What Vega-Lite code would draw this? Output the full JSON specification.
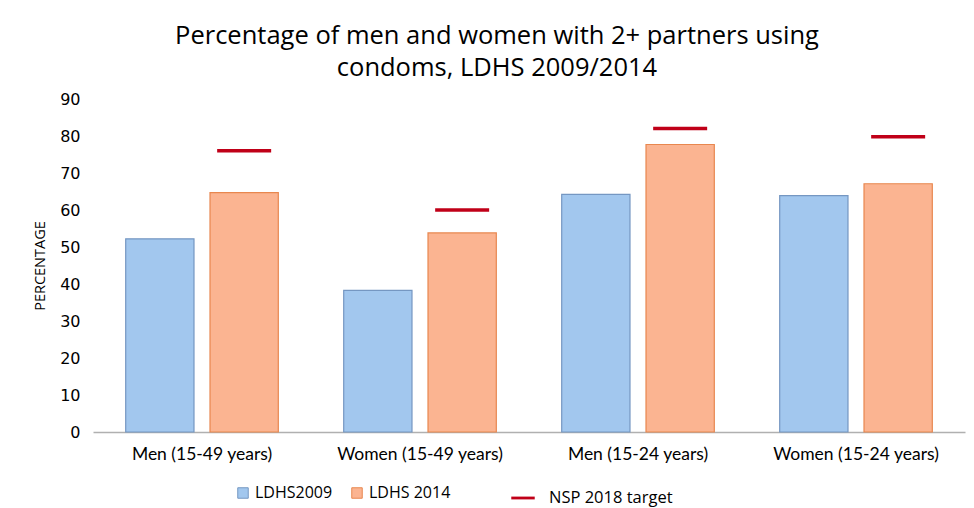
{
  "$schema": "https://vega.github.io/schema/vega-lite/v6.json",
  "width": 872,
  "height": 333,
  "autosize": "none",
  "padding": {"left": 93, "top": 99, "right": 9, "bottom": 76},
  "background": "white",
  "config": {"view": {"stroke": null}},
  "title": {
    "text": ["Percentage of men and women with 2+ partners using", "condoms, LDHS 2009/2014"],
    "font": "Open Sans",
    "fontSize": 25.5,
    "fontWeight": "normal",
    "color": "#000000",
    "anchor": "middle",
    "dx": -32,
    "offset": 10,
    "lineHeight": 32
  },
  "datasets": {
    "bars": [
      {"group": "Men (15-49 years)", "series": "LDHS2009", "value": 52.2},
      {"group": "Men (15-49 years)", "series": "LDHS 2014", "value": 64.7},
      {"group": "Women (15-49 years)", "series": "LDHS2009", "value": 38.3},
      {"group": "Women (15-49 years)", "series": "LDHS 2014", "value": 53.8},
      {"group": "Men (15-24 years)", "series": "LDHS2009", "value": 64.2},
      {"group": "Men (15-24 years)", "series": "LDHS 2014", "value": 77.7},
      {"group": "Women (15-24 years)", "series": "LDHS2009", "value": 63.9},
      {"group": "Women (15-24 years)", "series": "LDHS 2014", "value": 67.1}
    ],
    "targets": [
      {"group": "Men (15-49 years)", "series": "LDHS 2014", "value": 76, "label": "NSP 2018 target"},
      {"group": "Women (15-49 years)", "series": "LDHS 2014", "value": 60, "label": "NSP 2018 target"},
      {"group": "Men (15-24 years)", "series": "LDHS 2014", "value": 82, "label": "NSP 2018 target"},
      {"group": "Women (15-24 years)", "series": "LDHS 2014", "value": 79.8, "label": "NSP 2018 target"}
    ]
  },
  "encoding": {
    "x": {
      "field": "group",
      "type": "nominal",
      "sort": null,
      "scale": {"paddingInner": 0.3, "paddingOuter": 0.15},
      "axis": {
        "title": null,
        "labelAngle": 0,
        "labelFont": "Lato",
        "labelFontSize": 17.5,
        "labelColor": "#000000",
        "labelPadding": 13,
        "ticks": false,
        "domainColor": "#b0b0b0",
        "domainWidth": 1.5
      }
    },
    "xOffset": {
      "field": "series",
      "type": "nominal",
      "scale": {"domain": ["LDHS2009", "LDHS 2014"], "paddingInner": 0.19, "paddingOuter": 0}
    },
    "y": {
      "field": "value",
      "type": "quantitative",
      "scale": {"domain": [0, 90]},
      "axis": {
        "title": "PERCENTAGE",
        "titleFont": "Open Sans",
        "titleFontSize": 14.5,
        "titleFontWeight": "normal",
        "titleColor": "#000000",
        "titlePadding": 12,
        "values": [0, 10, 20, 30, 40, 50, 60, 70, 80, 90],
        "labelFont": "DejaVu Sans",
        "labelFontSize": 16,
        "labelColor": "#000000",
        "labelPadding": 13,
        "labelOverlap": false,
        "ticks": false,
        "domain": false,
        "grid": false
      }
    }
  },
  "layer": [
    {
      "data": {"name": "bars"},
      "mark": {"type": "bar", "strokeWidth": 1.2, "fillOpacity": 1},
      "encoding": {
        "color": {
          "field": "series",
          "type": "nominal",
          "scale": {"domain": ["LDHS2009", "LDHS 2014"], "range": ["#a2c7ee", "#fbb491"]},
          "legend": {
            "orient": "none",
            "legendX": 142,
            "legendY": 386,
            "direction": "horizontal",
            "title": null,
            "symbolType": "square",
            "symbolSize": 110,
            "symbolStrokeColor": "#7f9cc0",
            "symbolStrokeWidth": 1,
            "labelFont": "Open Sans",
            "labelFontSize": 16,
            "labelColor": "#000000",
            "columnPadding": 16,
            "labelOffset": 4
          }
        },
        "stroke": {
          "field": "series",
          "type": "nominal",
          "scale": {"domain": ["LDHS2009", "LDHS 2014"], "range": ["#7597c2", "#e8874f"]},
          "legend": null
        }
      }
    },
    {
      "data": {"name": "targets"},
      "mark": {"type": "tick", "size": 54, "thickness": 3.5, "opacity": 1},
      "encoding": {
        "fill": {
          "field": "label",
          "type": "nominal",
          "scale": {"range": ["#c00018"]},
          "legend": {
            "orient": "none",
            "legendX": 418,
            "legendY": 387,
            "title": null,
            "symbolType": "M-1,-0.12H1V0.12H-1Z",
            "symbolSize": 550,
            "symbolStrokeWidth": 0,
            "symbolOpacity": 1,
            "labelFont": "Open Sans",
            "labelFontSize": 16.5,
            "labelColor": "#000000",
            "labelOffset": 14
          }
        }
      }
    }
  ]
}
